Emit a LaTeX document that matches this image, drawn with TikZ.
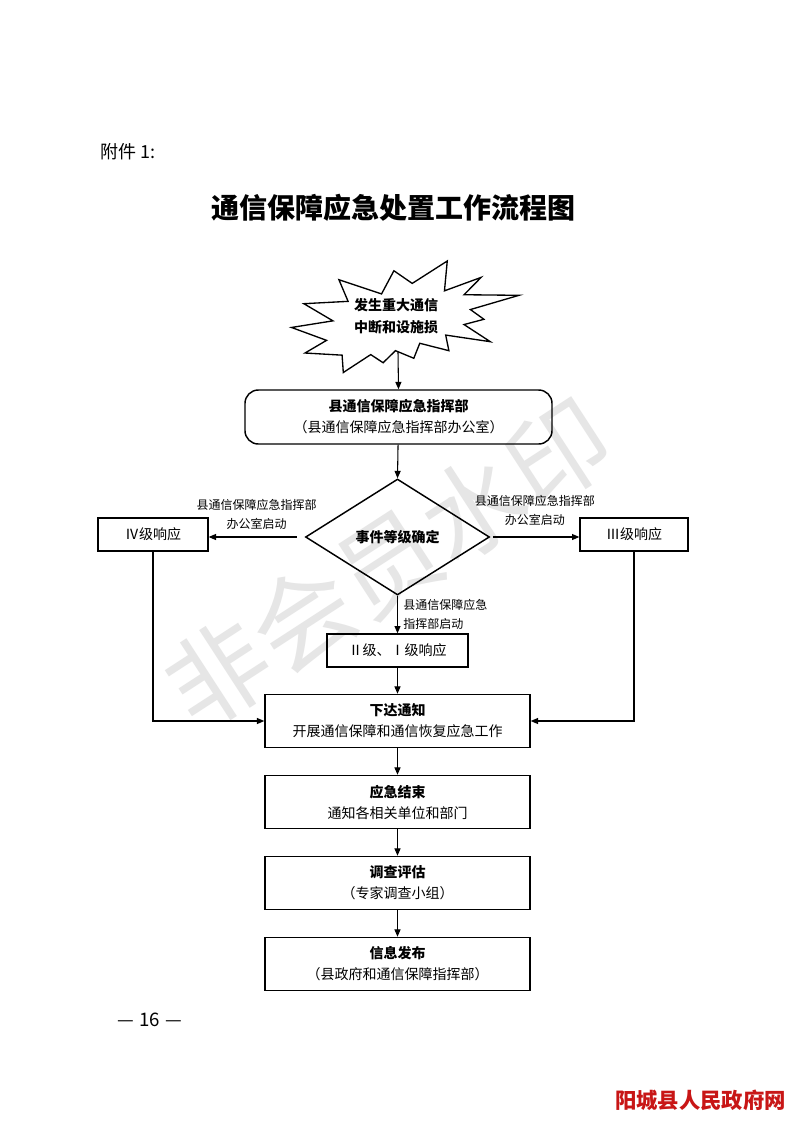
\documentclass[tikz,border=0pt]{standalone}
\usepackage{fontspec}
\usepackage{tikz}
\usepackage{color}
\usetikzlibrary{shapes.geometric,arrows.meta}
\setmainfont{Noto Sans CJK SC}
\definecolor{sitered}{RGB}{200,22,22}
\definecolor{wmgray}{RGB}{230,230,230}

\begin{document}
\begin{tikzpicture}[x=0.75pt,y=-0.75pt,
  box/.style={draw,line width=1.1pt,inner sep=0pt,align=center,minimum width=198.75pt,minimum height=39.75pt,font=\fontsize{10.5}{15.75}\selectfont},
  rbox/.style={box,rounded corners=10pt,minimum width=230.25pt,minimum height=40.5pt},
  lvbox/.style={draw,line width=1pt,inner sep=0pt,minimum height=24.75pt,font=\fontsize{10.5}{12}\selectfont},
  decide/.style={draw,diamond,line width=1.1pt,inner sep=0pt,minimum width=138pt,minimum height=87pt,font=\bfseries\fontsize{10.5}{12}\selectfont},
  lbl/.style={font=\fontsize{9}{14.25}\selectfont,align=center,inner sep=2pt},
  arr/.style={-{Triangle[length=5.5pt,width=4.5pt]},line width=0.8pt}]
\useasboundingbox[fill=white] (0,0) rectangle (793,1122);

% watermark
\node[rotate=33,text=wmgray,font=\fontsize{76}{76}\selectfont] (wm) at (388,563) {非会员水印};

\node[anchor=west,inner sep=0pt,font=\fontsize{13.5}{13.5}\selectfont] (att) at (100,152) {附件 1:};
\node[font=\bfseries\fontsize{21}{21}\selectfont] (title) at (393.5,208) {通信保障应急处置工作流程图};

% starburst
\begin{scope}[shift={(291.5,261)},xscale=1.0532,yscale=0.5162]
\draw[line width=1pt,line join=miter] (114.64,43.40) -- (97.22,18.87) -- (85.48,63.83) -- (45.03,36.26)
  -- (53.73,78.16) -- (11.74,82.70) -- (39.34,115.92) -- (0,128.75) -- (33.29,153.72) -- (12.83,178.24)
  -- (48.04,182.39) -- (49.18,216) -- (75.25,181.25) -- (86.98,197.12) -- (98.71,173.71) -- (116.14,188.44)
  -- (121.78,159.37) -- (149.43,173.71) -- (146.40,143.48) -- (188.78,156.32) -- (163.82,123.11)
  -- (182.70,112.92) -- (169.86,94.04) -- (216,66.46) -- (163.82,65.33) -- (180.05,31.72)
  -- (145.24,57.78) -- (147.89,0) -- cycle;
\end{scope}
\node[align=center,font=\bfseries\fontsize{10.5}{16.5}\selectfont] (burst) at (396,316) {发生重大通信\\中断和设施损};
\coordinate (burst-s) at (398,352);

% main chain
\node[rbox] (cmd) at (398.5,417) {\textbf{县通信保障应急指挥部}\\（县通信保障应急指挥部办公室）};
\node[decide] (dec) at (397.5,537) {事件等级确定};
\node[lvbox,minimum width=82.5pt] (lv4) at (153,534.5) {Ⅳ级响应};
\node[lvbox,minimum width=81pt] (lv3) at (634,534.5) {Ⅲ级响应};
\node[lvbox,minimum width=105.75pt] (lv12) at (397.5,650.5) {Ⅱ级、Ⅰ级响应};
\node[box] (notify) at (397.5,721) {\textbf{下达通知}\\开展通信保障和通信恢复应急工作};
\node[box] (finish) at (397.5,802) {\textbf{应急结束}\\通知各相关单位和部门};
\node[box] (assess) at (397.5,883) {\textbf{调查评估}\\（专家调查小组）};
\node[box] (publish) at (397.5,964) {\textbf{信息发布}\\（县政府和通信保障指挥部）};

% connectors
\draw[arr,shorten <=6pt] (dec.west) -- (dec.west -| lv4.east) node[lbl,midway,above,yshift=3pt] {县通信保障应急指挥部\\办公室启动};
\draw[arr,shorten <=2pt] (dec.east) -- (dec.east -| lv3.west) node[lbl,midway,above,yshift=6pt] {县通信保障应急指挥部\\办公室启动};
\draw[arr] (burst-s) -- (cmd.north);
\draw[arr] (cmd) -- (dec.north);
\draw[arr] (dec.south) -- (lv12.north) node[lbl,midway,right,align=left,inner sep=4pt] {县通信保障应急\\指挥部启动};
\draw[arr] (lv12) -- (notify.north);
\draw[arr] (lv4.south) |- (notify.west);
\draw[arr] (lv3.south) |- (notify.east);
\draw[arr] (notify) -- (finish.north);
\draw[arr] (finish) -- (assess.north);
\draw[arr] (assess) -- (publish.north);

\node[anchor=west,inner sep=0pt,font=\fontsize{14}{14}\selectfont] (page) at (117,1020) {—\hspace{4pt}16\hspace{4pt}—};
\node[anchor=east,inner sep=0pt,text=sitered,font=\bfseries\fontsize{16}{16}\selectfont] (site) at (786,1100) {阳城县人民政府网};
\end{tikzpicture}
\end{document}
